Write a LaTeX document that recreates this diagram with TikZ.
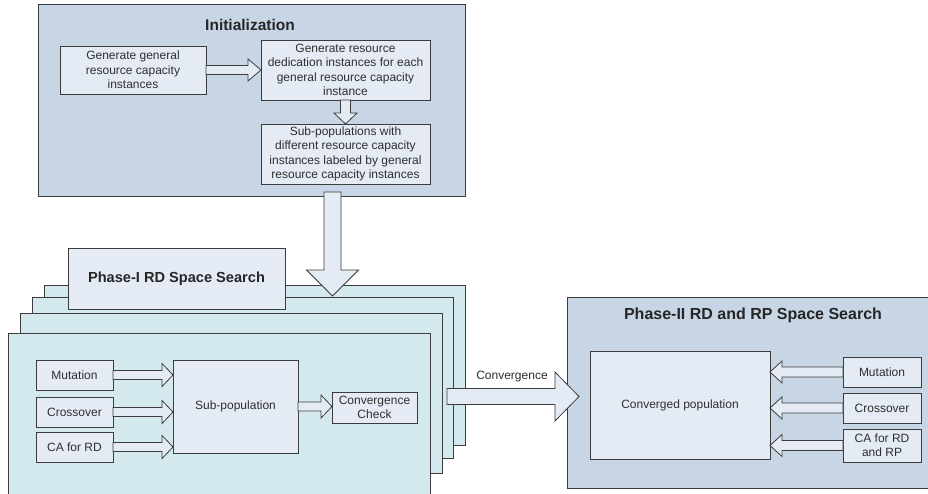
\documentclass[tikz,border=0pt]{standalone}
\usepackage{fontspec}
\setmainfont{Liberation Sans}
\usetikzlibrary{calc}
\definecolor{outerfill}{HTML}{C8D5E5}
\definecolor{innerfill}{HTML}{E5EBF5}
\definecolor{stackfill}{HTML}{D3E9EE}
\definecolor{edgecol}{HTML}{3C3C3C}
\definecolor{txtcol}{HTML}{2E2E2E}
\newcommand\harrow[5]{\draw[barrow] ($(#1)+(0,#3)$) -- ($(#2)+({-(#5)},#3)$) -- ($(#2)+({-(#5)},#4)$) -- (#2) -- ($(#2)+({-(#5)},{-(#4)})$) -- ($(#2)+({-(#5)},{-(#3)})$) -- ($(#1)+(0,{-(#3)})$) -- cycle;}
\newcommand\varrow[5]{\draw[barrow] ($(#1)+(#3,0)$) -- ($(#2)+(#3,{-(#5)})$) -- ($(#2)+(#4,{-(#5)})$) -- (#2) -- ($(#2)+({-(#4)},{-(#5)})$) -- ($(#2)+({-(#3)},{-(#5)})$) -- ($(#1)+({-(#3)},0)$) -- cycle;}
\begin{document}
\begin{tikzpicture}[x=1pt,y=-1pt,
  every node/.style={inner sep=0pt, outer sep=0pt},
  panel/.style={draw=edgecol, line width=0.9pt, fill=outerfill},
  stackbox/.style={draw=edgecol, line width=0.9pt, fill=stackfill},
  box/.style={draw=edgecol, line width=0.9pt, fill=innerfill, text=txtcol, align=center, font=\fontsize{12}{14.4}\selectfont},
  titletext/.style={text=black!85, font=\fontsize{15.5}{17}\selectfont\bfseries},
  barrow/.style={draw=edgecol, line width=0.8pt, fill=innerfill, line join=miter}]
\useasboundingbox (0,0) rectangle (928,493);
\clip (0,0) rectangle (928,493);
% Initialization
\node[panel, minimum width=427, minimum height=192] (init) at (251.5,100) {};
\node[titletext] (inittitle) at (250,25) {Initialization};
\node[box, minimum width=146, minimum height=48] (a) at (133,70) {Generate general\\resource capacity\\instances};
\node[box, minimum width=169, minimum height=60] (b) at (345.5,70) {Generate resource\\dedication instances for each\\general resource capacity\\instance};
\node[box, minimum width=169, minimum height=60] (c) at (345.5,154) {Sub-populations with\\different resource capacity\\instances labeled by general\\resource capacity instances};
\harrow{a.east}{b.west}{4.5}{11}{13}
\varrow{b.south}{c.north}{5}{11.5}{11}
% Phase-I stacks
\node[stackbox, minimum width=421, minimum height=160] (s1) at (254.5,365) {};
\node[stackbox, minimum width=421, minimum height=161] (s2) at (242.5,377.5) {};
\node[stackbox, minimum width=422, minimum height=160] (s3) at (231,393) {};
\node[stackbox, minimum width=422, minimum height=172] (s4) at (219,419) {};
\node[box, minimum width=217, minimum height=61, font=\fontsize{14.6}{16}\selectfont\bfseries, text=black!85] (t1) at (176.5,278.5) {Phase-I RD Space Search};
\coordinate (bigs) at (332.5,192);
\coordinate (bigt) at (332.5,296);
\varrow{bigs}{bigt}{8.5}{26}{26}
\node[box, minimum width=77, minimum height=30] (mut) at (74.5,375) {Mutation};
\node[box, minimum width=77, minimum height=30] (cro) at (74.5,412) {Crossover};
\node[box, minimum width=77, minimum height=30] (ca) at (74.5,447) {CA for RD};
\node[box, minimum width=125, minimum height=93] (sub) at (235.5,406.5) {Sub-population};
\node[box, minimum width=85, minimum height=31, font=\fontsize{12}{14}\selectfont] (chk) at (374.5,407.5) {Convergence\\Check};
\coordinate (m1) at (sub.west |- mut.east);
\coordinate (m2) at (sub.west |- cro.east);
\coordinate (m3) at (sub.west |- ca.east);
\coordinate (m4) at (chk.west |- sub.east);
\harrow{mut.east}{m1}{4.5}{11.5}{11}
\harrow{cro.east}{m2}{4.5}{11.5}{11}
\harrow{ca.east}{m3}{4.5}{11.5}{11}
\harrow{sub.east}{m4}{4.5}{11.5}{11}
% Phase-II
\node[panel, minimum width=362, minimum height=191] (p2) at (748,392.5) {};
\node[titletext, font=\fontsize{16}{18}\selectfont\bfseries] (p2title) at (753,315) {Phase-II RD and RP Space Search};
\node[box, minimum width=180, minimum height=108] (cp) at (680,405) {Converged population};
\node[box, minimum width=78, minimum height=30] (mutb) at (882,372) {Mutation};
\node[box, minimum width=78, minimum height=30] (crob) at (882,408) {Crossover};
\node[box, minimum width=78, minimum height=33] (cab) at (882,445.5) {CA for RD\\and RP};
\coordinate (n1) at (cp.east |- mutb.west);
\coordinate (n2) at (cp.east |- crob.west);
\coordinate (n3) at (cp.east |- cab.west);
\harrow{mutb.west}{n1}{5}{11}{-12}
\harrow{crob.west}{n2}{5}{11}{-12}
\harrow{cab.west}{n3}{5}{11}{-12}
% Convergence arrow
\coordinate (cvs) at (447,396.5);
\coordinate (cvt) at (579,396.5);
\harrow{cvs}{cvt}{8}{24.5}{24}
\node[text=txtcol, font=\fontsize{12}{14}\selectfont] (cvlabel) at (512,377) {Convergence};
\end{tikzpicture}
\end{document}
